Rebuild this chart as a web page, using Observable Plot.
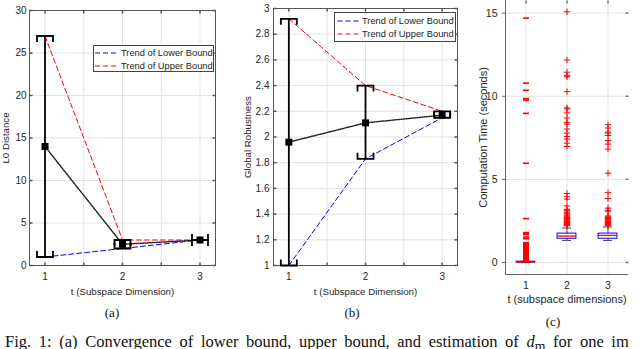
<!DOCTYPE html>
<html><head><meta charset="utf-8">
<script src="https://cdn.jsdelivr.net/npm/d3@7"></script>
<script src="https://cdn.jsdelivr.net/npm/@observablehq/plot@0.6"></script>
<style>
body{margin:0;background:#fff;}
#root{position:relative;width:640px;height:349px;overflow:hidden;font-family:"Liberation Sans",Arial,sans-serif;background:#fff;}
.panel{position:absolute;top:0;}
.sub{position:absolute;font-family:"Liberation Serif","Times New Roman",serif;font-size:13px;color:#111;transform:translate(-50%,-50%);white-space:nowrap;}
.legend{position:absolute;background:#fff;border:1px solid #444;box-sizing:border-box;font-size:9.3px;color:#222;}
.legend .row{position:absolute;left:0;height:12px;white-space:nowrap;}
.legend svg{position:absolute;left:0;top:0;}
.legend span{position:absolute;left:27px;top:0;line-height:12px;}
.caption{position:absolute;left:5px;top:333px;font-family:"Liberation Serif","Times New Roman",serif;font-size:16.5px;line-height:17px;word-spacing:3.5px;white-space:nowrap;color:#111;}
</style></head>
<body>
<div id="root">
  <div id="pa" class="panel" style="left:0px"></div>
  <div id="pb" class="panel" style="left:230px"></div>
  <div id="pc" class="panel" style="left:465px"></div>
  <div id="legA" class="legend" style="left:93px;top:45px;width:121px;height:27px;"></div>
  <div id="legB" class="legend" style="left:334px;top:12px;width:122px;height:30px;"></div>
  <div class="sub" style="left:112px;top:313px">(a)</div>
  <div class="sub" style="left:352px;top:313px">(b)</div>
  <div class="sub" style="left:553px;top:322px">(c)</div>
  <div class="caption">Fig. 1: (a) Convergence of lower bound, upper bound, and estimation of <i>d</i><sub>m</sub> for one im</div>
</div>
<script>
// ---------- data ----------
const t = [1, 2, 3];
const aLower = [1, 2, 3];
const aUpper = [27, 3, 3];
const aEstimate = [14, 2.5, 3];
const bLower = [1, 1.83, 2.15];
const bUpper = [2.92, 2.4, 2.2];
const bEstimate = [1.96, 2.11, 2.17];
const xGridTicks = [1, 1.5, 2, 2.5, 3];
const xTickLabels = [1, 2, 3];
const aYTicks = [0, 5, 10, 15, 20, 25, 30];
const bYTicks = [1, 1.2, 1.4, 1.6, 1.8, 2, 2.2, 2.4, 2.6, 2.8, 3];
const cYTicks = [0, 5, 10, 15];
const legendLabels = ["Trend of Lower Bound", "Trend of Upper Bound"];
// boxplot (c)
const cQ1 = [0.01, 1.43, 1.43];
const cMedian = [0.03, 1.59, 1.63];
const cQ3 = [0.05, 1.74, 1.74];
const cWhiskerLow = [0, 1.33, 1.33];
const cWhiskerHigh = [0.07, 2.08, 2.14];
const cOutliers1 = [14.70, 10.79, 10.36, 9.86, 9.76, 8.97, 5.97, 2.64, 1.80, 1.74, 1.68, 1.53, 1.43,
  1.19, 1.15, 1.11, 1.07, 1.03, 0.99, 0.95, 0.91, 0.87, 0.83, 0.79, 0.75, 0.71, 0.67, 0.63, 0.59,
  0.55, 0.51, 0.47, 0.43, 0.39, 0.35, 0.31, 0.27, 0.23, 0.19, 0.15, 0.11, 0.07];
const cOutliers2 = [15.08, 12.18, 11.45, 11.25, 11.17, 10.28, 9.30, 9.24, 9.00, 8.69, 8.43, 8.33,
  8.03, 7.78, 7.58, 7.43, 7.18, 6.98, 4.15, 3.95, 3.81, 3.41, 3.2, 3.12, 3.04,
  2.98, 2.92, 2.86, 2.8, 2.75, 2.7, 2.65, 2.6, 2.55, 2.5, 2.46, 2.42, 2.38, 2.34, 2.3, 2.26, 2.22];
const cOutliers3 = [8.29, 8.09, 7.85, 7.79, 7.64, 7.34, 7.12, 6.82, 5.37, 4.20, 3.85, 3.27, 3.15, 3.08,
  2.8, 2.75, 2.7, 2.65, 2.6, 2.55, 2.5, 2.46, 2.42, 2.38, 2.34, 2.3, 2.26, 2.22];

// ---------- styling helpers ----------
const gridColor = "#e2e2e2";
const axisColor = "#555";
const sym = f => ({draw: f});
const capTop = sym(c => {c.moveTo(-8, 6); c.lineTo(-8, 0); c.lineTo(8, 0); c.lineTo(8, 6);});
const capBottom = sym(c => {c.moveTo(-8, -6); c.lineTo(-8, 0); c.lineTo(8, 0); c.lineTo(8, -6);});
const square = sym(c => {c.moveTo(-3.5, -3.5); c.lineTo(3.5, -3.5); c.lineTo(3.5, 3.5); c.lineTo(-3.5, 3.5); c.closePath();});
const tickUp = sym(c => {c.moveTo(0, 0); c.lineTo(0, -3);});
const tickDown = sym(c => {c.moveTo(0, 0); c.lineTo(0, 3);});
const tickRight = sym(c => {c.moveTo(0, 0); c.lineTo(3, 0);});
const tickLeft = sym(c => {c.moveTo(0, 0); c.lineTo(-3, 0);});
const plus = sym(c => {c.moveTo(-3.2, 0); c.lineTo(3.2, 0); c.moveTo(0, -3.2); c.lineTo(0, 3.2);});
const dash = sym(c => {c.moveTo(-3, 0); c.lineTo(3, 0);});
const style = {fontFamily: "'Liberation Sans', Arial, sans-serif", fontSize: "10px", color: "#262626", background: "transparent", overflow: "visible"};

function boxTicks(xDom, yDom, xT, yT, color) {
  return [
    Plot.dot(xT, {x: d => d, y: () => yDom[0], symbol: tickUp, stroke: color, fill: "none", r: 3}),
    Plot.dot(xT, {x: d => d, y: () => yDom[1], symbol: tickDown, stroke: color, fill: "none", r: 3}),
    Plot.dot(yT, {x: () => xDom[0], y: d => d, symbol: tickRight, stroke: color, fill: "none", r: 3}),
    Plot.dot(yT, {x: () => xDom[1], y: d => d, symbol: tickLeft, stroke: color, fill: "none", r: 3})
  ];
}

function errorPanel({lower, upper, estimate, yDomain, yTicks, width, height, marginLeft, marginRight, marginTop, marginBottom, ylabel, ylabelDx, yPad}) {
  const rows = t.map((v, i) => ({t: v, lo: lower[i], hi: upper[i], est: estimate[i]}));
  const xDomain = [0.8, 3.2];
  return Plot.plot({
    width, height, marginLeft, marginRight, marginTop, marginBottom, style,
    x: {domain: xDomain},
    y: {domain: yDomain},
    marks: [
      Plot.gridX(xGridTicks, {stroke: gridColor, strokeOpacity: 1}),
      Plot.gridY(yTicks, {stroke: gridColor, strokeOpacity: 1}),
      Plot.frame({stroke: axisColor}),
      ...boxTicks(xDomain, yDomain, xGridTicks, yTicks, axisColor),
      Plot.axisX(xTickLabels, {tickSize: 0, tickPadding: 7, label: null, tickFormat: d => String(d)}),
      Plot.axisY(yTicks, {tickSize: 0, tickPadding: yPad, label: null, tickFormat: d => String(d)}),
      Plot.line(rows, {x: "t", y: "lo", stroke: "#0000ff", strokeWidth: 1, strokeDasharray: "5,3"}),
      Plot.line(rows, {x: "t", y: "hi", stroke: "#ff0000", strokeWidth: 1, strokeDasharray: "5,3"}),
      Plot.line(rows, {x: "t", y: "est", stroke: "#222", strokeWidth: 1.5, strokeDasharray: "1,1.3"}),
      Plot.ruleX(rows, {x: "t", y1: "lo", y2: "hi", stroke: "#000", strokeWidth: 1.8}),
      Plot.dot(rows, {x: "t", y: "hi", symbol: capTop, stroke: "#000", strokeWidth: 1.8, fill: "none", r: 5}),
      Plot.dot(rows, {x: "t", y: "lo", symbol: capBottom, stroke: "#000", strokeWidth: 1.8, fill: "none", r: 5}),
      Plot.dot(rows, {x: "t", y: "est", symbol: square, fill: "#000", stroke: "none", r: 4}),
      Plot.text(["t (Subspace Dimension)"], {frameAnchor: "bottom", dy: 26, text: d => d, fontSize: 9.7, fill: "#262626", textAnchor: "middle", lineAnchor: "middle"}),
      Plot.text([ylabel], {frameAnchor: "left", dx: ylabelDx, rotate: -90, text: d => d, fontSize: 9.7, fill: "#262626", textAnchor: "middle", lineAnchor: "middle"})
    ]
  });
}

document.getElementById("pa").append(errorPanel({
  lower: aLower, upper: aUpper, estimate: aEstimate, yDomain: [0, 30], yTicks: aYTicks,
  width: 222, height: 300, marginLeft: 29, marginRight: 7, marginTop: 10, marginBottom: 35,
  ylabel: "L0 Distance", ylabelDx: -23.5, yPad: 3
}));
document.getElementById("pb").append(errorPanel({
  lower: bLower, upper: bUpper, estimate: bEstimate, yDomain: [1, 3], yTicks: bYTicks,
  width: 232, height: 300, marginLeft: 43, marginRight: 5, marginTop: 8, marginBottom: 35,
  ylabel: "Global Robustness", ylabelDx: -26, yPad: 4
}));

// ---------- boxplot panel ----------
const boxes = t.map((v, i) => ({t: v, q1: cQ1[i], med: cMedian[i], q3: cQ3[i], wl: cWhiskerLow[i], wh: cWhiskerHigh[i]}));
const out1 = cOutliers1.map(v => ({t: 1, v}));
const out23 = [...cOutliers2.map(v => ({t: 2, v})), ...cOutliers3.map(v => ({t: 3, v}))];
const cX = [0.5, 3.5], cY = [-0.72, 15.76];
document.getElementById("pc").append(Plot.plot({
  width: 175, height: 310, marginLeft: 40, marginRight: 12, marginTop: 0, marginBottom: 36, style,
  x: {domain: cX},
  y: {domain: cY},
  marks: [
    Plot.gridX(xTickLabels, {stroke: gridColor, strokeOpacity: 1}),
    Plot.gridY(cYTicks, {stroke: gridColor, strokeOpacity: 1}),
    Plot.ruleX([cX[0]], {stroke: "#666"}),
    Plot.ruleY([cY[0]], {stroke: "#666"}),
    Plot.dot(cYTicks, {x: () => cX[1], y: d => d, symbol: tickLeft, stroke: "#777", fill: "none", r: 3}),
    Plot.dot(xTickLabels, {x: d => d, y: () => cY[1], symbol: tickDown, stroke: "#777", fill: "none", r: 3}),
    Plot.axisX(xTickLabels, {tickSize: 0, tickPadding: 7, label: null, tickFormat: d => String(d), fontSize: 10.5}),
    Plot.axisY(cYTicks, {tickSize: 3, tickPadding: 5, label: null, tickFormat: d => String(d), fontSize: 10.5, stroke: "#666"}),
    Plot.ruleX(boxes, {x: "t", y1: "q3", y2: "wh", stroke: "#444", strokeWidth: 1}),
    Plot.ruleX(boxes, {x: "t", y1: "wl", y2: "q1", stroke: "#444", strokeWidth: 1}),
    Plot.ruleY(boxes, {x1: d => d.t - 0.11, x2: d => d.t + 0.11, y: "wh", stroke: "#444"}),
    Plot.ruleY(boxes, {x1: d => d.t - 0.11, x2: d => d.t + 0.11, y: "wl", stroke: "#444"}),
    Plot.rect(boxes, {x1: d => d.t - 0.23, x2: d => d.t + 0.23, y1: "q1", y2: "q3", stroke: "#0000ff", fill: "none", strokeWidth: 1}),
    Plot.ruleY(boxes, {x1: d => d.t - 0.23, x2: d => d.t + 0.23, y: "med", stroke: "#ff0000", strokeWidth: 1.3}),
    Plot.dot(out1, {x: "t", y: "v", symbol: dash, stroke: "#ff0000", strokeWidth: 1.6, fill: "none", r: 3}),
    Plot.dot(out23, {x: "t", y: "v", symbol: plus, stroke: "#ff0000", strokeWidth: 1, fill: "none", r: 3}),
    Plot.text(["t (subspace dimensions)"], {frameAnchor: "bottom", dy: 25, text: d => d, fontSize: 11, fill: "#262626", textAnchor: "middle", lineAnchor: "middle"}),
    Plot.text(["Computation Time (seconds)"], {frameAnchor: "left", dx: -22.5, rotate: -90, text: d => d, fontSize: 11, fill: "#262626", textAnchor: "middle", lineAnchor: "middle"})
  ]
}));

// ---------- legends ----------
function legend(id, rowsY, lineX1) {
  const el = document.getElementById(id);
  const colors = ["#0000ff", "#ff0000"];
  legendLabels.forEach((lab, i) => {
    const row = document.createElement("div");
    row.className = "row";
    row.style.top = (rowsY[i] - 6) + "px";
    row.style.width = "118px";
    row.innerHTML = `<svg width="26" height="12"><line x1="${lineX1}" x2="24" y1="6" y2="6" stroke="${colors[i]}" stroke-width="1" stroke-dasharray="5,3"/></svg><span>${lab}</span>`;
    el.append(row);
  });
}
legend("legA", [7, 20], 1);
legend("legB", [8, 21], 2.5);
</script>
</body></html>
